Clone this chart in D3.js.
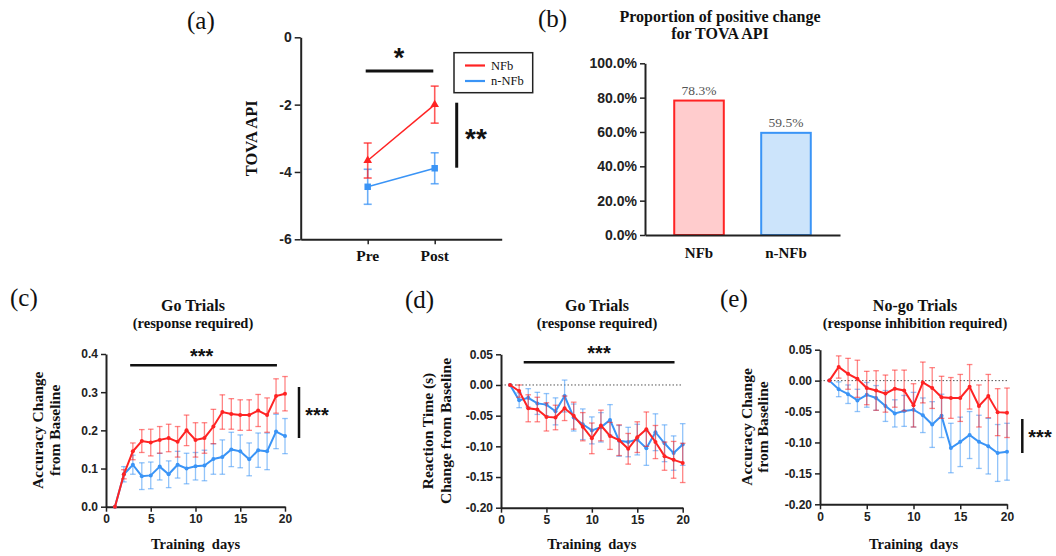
<!DOCTYPE html>
<html>
<head>
<meta charset="utf-8">
<script src="https://cdn.jsdelivr.net/npm/d3@7"></script>
<style>
  body { margin: 0; background: #fff; }
  svg { display: block; }
  .serif { font-family: "Liberation Serif", "Times New Roman", serif; }
  .tick text { font-family: "Liberation Sans", Arial, sans-serif; font-weight: bold; fill: #222; }
</style>
</head>
<body>
<svg id="fig"></svg>
<script>
// ---- data ----
const prePost = ["Pre", "Post"];
const apiNFb = [-3.66, -2.0];
const apiNFbErr = [0.52, 0.55];
const apiNNFb = [-4.44, -3.89];
const apiNNFbErr = [0.52, 0.46];

const groups = ["NFb", "n-NFb"];
const positiveShare = [78.3, 59.5];

const days = [1, 2, 3, 4, 5, 6, 7, 8, 9, 10, 11, 12, 13, 14, 15, 16, 17, 18, 19, 20];

// (c) Go trials accuracy
const goAccNFb    = [0, 0.085, 0.145, 0.172, 0.168, 0.175, 0.180, 0.170, 0.200, 0.175, 0.180, 0.210, 0.248, 0.243, 0.240, 0.240, 0.252, 0.240, 0.290, 0.296];
const goAccNFbErr = [0, 0.012, 0.022, 0.030, 0.035, 0.035, 0.036, 0.040, 0.040, 0.045, 0.040, 0.045, 0.045, 0.040, 0.040, 0.040, 0.042, 0.045, 0.045, 0.045];
const goAccNNFb    = [0, 0.085, 0.110, 0.080, 0.082, 0.105, 0.085, 0.110, 0.100, 0.106, 0.108, 0.125, 0.130, 0.150, 0.145, 0.124, 0.148, 0.145, 0.197, 0.185];
const goAccNNFbErr = [0, 0.020, 0.025, 0.035, 0.035, 0.035, 0.035, 0.035, 0.040, 0.036, 0.040, 0.040, 0.045, 0.045, 0.043, 0.043, 0.045, 0.048, 0.045, 0.046];

// (d) Go trials reaction time
const goRtNFb    = [0, -0.010, -0.038, -0.040, -0.052, -0.053, -0.038, -0.050, -0.068, -0.087, -0.066, -0.083, -0.090, -0.104, -0.085, -0.072, -0.093, -0.116, -0.122, -0.127];
const goRtNFbErr = [0, 0.010, 0.022, 0.020, 0.023, 0.020, 0.020, 0.022, 0.023, 0.025, 0.025, 0.022, 0.025, 0.025, 0.025, 0.028, 0.027, 0.023, 0.030, 0.032];
const goRtNNFb    = [0, -0.025, -0.021, -0.030, -0.032, -0.043, -0.018, -0.053, -0.064, -0.074, -0.069, -0.057, -0.091, -0.093, -0.089, -0.103, -0.077, -0.095, -0.111, -0.097];
const goRtNNFbErr = [0, 0.012, 0.015, 0.018, 0.018, 0.022, 0.026, 0.022, 0.025, 0.022, 0.024, 0.025, 0.025, 0.024, 0.025, 0.028, 0.030, 0.030, 0.028, 0.034];

// (e) No-go trials accuracy
const nogoAccNFb    = [0, 0.022, 0.011, 0.003, -0.012, -0.016, -0.021, -0.013, -0.016, -0.040, -0.003, -0.012, -0.027, -0.028, -0.028, -0.010, -0.041, -0.025, -0.051, -0.052];
const nogoAccNFbErr = [0, 0.018, 0.025, 0.030, 0.027, 0.032, 0.030, 0.030, 0.033, 0.035, 0.033, 0.033, 0.034, 0.033, 0.038, 0.036, 0.034, 0.035, 0.038, 0.040];
const nogoAccNNFb    = [0, -0.014, -0.022, -0.032, -0.023, -0.028, -0.041, -0.053, -0.049, -0.047, -0.056, -0.071, -0.057, -0.109, -0.099, -0.088, -0.099, -0.106, -0.117, -0.115];
const nogoAccNNFbErr = [0, 0.012, 0.015, 0.018, 0.020, 0.020, 0.025, 0.022, 0.025, 0.028, 0.028, 0.037, 0.035, 0.040, 0.040, 0.038, 0.043, 0.045, 0.046, 0.046];

const red = "#ff2323";
const blue = "#3a94f6";

const svg = d3.select("#fig").attr("width", 1056).attr("height", 556);

function styleAxis(g) {
    g.select(".domain").attr("stroke", "#222").attr("stroke-width", 2);
    g.selectAll(".tick line").attr("stroke", "#222").attr("stroke-width", 1.5);
}

function label(x, y, txt, size, opts = {}) {
    return svg.append("text")
        .attr("class", "serif")
        .attr("x", x).attr("y", y)
        .attr("font-size", size)
        .attr("font-weight", opts.weight || "bold")
        .attr("text-anchor", opts.anchor || "middle")
        .attr("fill", opts.fill || "#111")
        .text(txt);
}

function sigBar(x1, y1, x2, y2, w) {
    svg.append("line")
        .attr("x1", x1).attr("y1", y1).attr("x2", x2).attr("y2", y2)
        .attr("stroke", "#111").attr("stroke-width", w);
}

function stars(x, y, txt, size) {
    svg.append("text")
        .attr("x", x).attr("y", y)
        .attr("font-family", "Liberation Sans, Arial, sans-serif")
        .attr("font-weight", "bold")
        .attr("font-size", size)
        .attr("text-anchor", "middle")
        .attr("fill", "#111")
        .text(txt);
}

// ================= (a) TOVA API =================
label(187, 29, "(a)", 25, { weight: "normal", anchor: "start" });

const ax = d3.scaleLinear().domain([0, 3]).range([300.7, 501.7]);
const ay = d3.scaleLinear().domain([-6, 0]).range([239.3, 37.3]);

svg.append("g")
    .attr("transform", `translate(0,${ay(-6)})`)
    .call(d3.axisBottom(ax).tickValues([1, 2]).tickSize(5).tickSizeOuter(0).tickFormat(""))
    .call(styleAxis);
svg.append("g")
    .attr("transform", `translate(${ax(0)},0)`)
    .call(d3.axisLeft(ay).tickValues([0, -2, -4, -6]).tickSize(6).tickSizeOuter(0).tickFormat(d => String(d)))
    .call(styleAxis)
    .call(g => g.selectAll(".tick text").attr("font-size", 14));

prePost.forEach((p, i) => label(ax(i + 1), 261, p, 15.5));

svg.append("text")
    .attr("class", "serif")
    .attr("transform", `translate(257,${(ay(-6) + ay(0)) / 2}) rotate(-90)`)
    .attr("text-anchor", "middle")
    .attr("font-size", 16.5).attr("font-weight", "bold").attr("fill", "#111")
    .text("TOVA API");

function prePostSeries(vals, errs, color, shape) {
    const pts = vals.map((v, i) => ({ x: i + 1, y: v, e: errs[i] }));
    const g = svg.append("g");
    pts.forEach(d => {
        g.append("line")
            .attr("x1", ax(d.x)).attr("x2", ax(d.x))
            .attr("y1", ay(d.y - d.e)).attr("y2", ay(d.y + d.e))
            .attr("stroke", color).attr("stroke-width", 1.6).attr("opacity", 0.75);
        [d.y - d.e, d.y + d.e].forEach(v => g.append("line")
            .attr("x1", ax(d.x) - 4).attr("x2", ax(d.x) + 4)
            .attr("y1", ay(v)).attr("y2", ay(v))
            .attr("stroke", color).attr("stroke-width", 1.6).attr("opacity", 0.75));
    });
    g.append("path")
        .datum(pts)
        .attr("fill", "none").attr("stroke", color).attr("stroke-width", 1.5)
        .attr("d", d3.line().x(d => ax(d.x)).y(d => ay(d.y)));
    g.selectAll(".m").data(pts).join("path")
        .attr("transform", d => `translate(${ax(d.x)},${ay(d.y)})`)
        .attr("fill", color)
        .attr("d", d3.symbol().type(shape).size(shape === d3.symbolSquare ? 42 : 32));
}
prePostSeries(apiNNFb, apiNNFbErr, blue, d3.symbolSquare);
prePostSeries(apiNFb, apiNFbErr, red, d3.symbolTriangle);

sigBar(365.7, 71, 433.3, 71, 3);
stars(399, 67, "*", 27);
sigBar(456.7, 102.7, 456.7, 167.7, 3);
stars(476, 148, "**", 28);

// legend
svg.append("rect")
    .attr("x", 454).attr("y", 52.7).attr("width", 78.7).attr("height", 40)
    .attr("fill", "#fff").attr("stroke", "#222").attr("stroke-width", 1.5);
[{ n: groups[0], c: red }, { n: groups[1], c: blue }].forEach((d, i) => {
    const y = 65.5 + i * 15.5;
    svg.append("line").attr("x1", 465).attr("x2", 485).attr("y1", y).attr("y2", y)
        .attr("stroke", d.c).attr("stroke-width", 2.2);
    label(491, y + 4.3, d.n, 12.5, { weight: "normal", anchor: "start" });
});

// ================= (b) proportion bars =================
label(538, 27, "(b)", 25, { weight: "normal", anchor: "start" });
label(720, 22, "Proportion of positive change", 16);
label(720, 38.5, "for TOVA API", 16);

const bx = d3.scaleBand().domain(groups).range([645, 840]).paddingInner(0.43).paddingOuter(0.336);
const by = d3.scaleLinear().domain([0, 100]).range([235, 63.3]);

const barFill = ["#ffcccd", "#cce4fb"];
const barStroke = [red, blue];

svg.append("g").selectAll("rect").data(groups).join("rect")
    .attr("x", d => bx(d))
    .attr("y", (d, i) => by(positiveShare[i]))
    .attr("width", bx.bandwidth())
    .attr("height", (d, i) => by(0) - by(positiveShare[i]))
    .attr("fill", (d, i) => barFill[i])
    .attr("stroke", (d, i) => barStroke[i])
    .attr("stroke-width", 2);

groups.forEach((gname, i) => {
    label(bx(gname) + bx.bandwidth() / 2, by(positiveShare[i]) - 6, positiveShare[i].toFixed(1) + "%", 13.5,
        { weight: "normal", fill: "#555" });
    label(bx(gname) + bx.bandwidth() / 2, 258, gname, 15);
});

svg.append("g")
    .attr("transform", `translate(0,${by(0)})`)
    .call(d3.axisBottom(bx).tickSize(0).tickSizeOuter(0).tickFormat(""))
    .call(styleAxis);
svg.append("g")
    .attr("transform", "translate(645,0)")
    .call(d3.axisLeft(by).tickValues([0, 20, 40, 60, 80, 100]).tickSize(5).tickSizeOuter(0)
        .tickFormat(d => d.toFixed(1) + "%"))
    .call(styleAxis)
    .call(g => g.selectAll(".tick text").attr("font-size", 14));

// ================= (c)(d)(e) training curves =================
function trainingPanel(cfg) {
    const x = d3.scaleLinear().domain([0, 20]).range(cfg.xRange);
    const y = d3.scaleLinear().domain(cfg.yDomain).range(cfg.yRange);

    label(cfg.letterPos[0], cfg.letterPos[1], cfg.letter, 25, { weight: "normal", anchor: "start" });
    label(cfg.titleX, 311, cfg.title[0], 16);
    label(cfg.titleX, 328, cfg.title[1], 14.5);

    if (cfg.zeroLine) {
        svg.append("line")
            .attr("x1", x(0)).attr("x2", x(20)).attr("y1", y(0)).attr("y2", y(0))
            .attr("stroke", "#555").attr("stroke-width", 1).attr("stroke-dasharray", "1.5,2");
    }

    svg.append("g")
        .attr("transform", `translate(0,${cfg.yRange[0]})`)
        .call(d3.axisBottom(x).tickValues([0, 5, 10, 15, 20]).tickSize(5).tickSizeOuter(0))
        .call(styleAxis)
        .call(g => g.selectAll(".tick text").attr("font-size", 12));
    svg.append("g")
        .attr("transform", `translate(${x(0)},0)`)
        .call(d3.axisLeft(y).tickValues(cfg.yTicks).tickSize(5).tickSizeOuter(0).tickFormat(cfg.fmt))
        .call(styleAxis)
        .call(g => g.selectAll(".tick text").attr("font-size", 12));

    const midX = (cfg.xRange[0] + cfg.xRange[1]) / 2;
    label(midX, 549, "Training  days", 14.5).attr("xml:space", "preserve");

    const midY = (cfg.yRange[0] + cfg.yRange[1]) / 2;
    cfg.yLabel.forEach((t, i) => {
        svg.append("text")
            .attr("class", "serif")
            .attr("transform", `translate(${cfg.yLabelX[i]},${midY}) rotate(-90)`)
            .attr("text-anchor", "middle")
            .attr("font-size", 15.5).attr("font-weight", "bold").attr("fill", "#111")
            .text(t);
    });

    cfg.series.forEach(s => {
        const pts = days.map((d, i) => ({ x: d, y: s.vals[i], e: s.errs[i] }));
        const g = svg.append("g");
        pts.filter(d => d.e > 0).forEach(d => {
            g.append("line")
                .attr("x1", x(d.x)).attr("x2", x(d.x))
                .attr("y1", y(d.y - d.e)).attr("y2", y(d.y + d.e))
                .attr("stroke", s.color).attr("stroke-width", 1.3).attr("opacity", 0.55);
            [d.y - d.e, d.y + d.e].forEach(v => g.append("line")
                .attr("x1", x(d.x) - 2.8).attr("x2", x(d.x) + 2.8)
                .attr("y1", y(v)).attr("y2", y(v))
                .attr("stroke", s.color).attr("stroke-width", 1.3).attr("opacity", 0.55));
        });
        s.g = g;
        s.pts = pts;
    });
    cfg.series.forEach(s => {
        s.g.append("path")
            .datum(s.pts)
            .attr("fill", "none").attr("stroke", s.color).attr("stroke-width", 2)
            .attr("d", d3.line().x(d => x(d.x)).y(d => y(d.y)));
        s.g.selectAll("circle").data(s.pts).join("circle")
            .attr("cx", d => x(d.x)).attr("cy", d => y(d.y)).attr("r", 2)
            .attr("fill", s.color);
    });

    return { x, y };
}

// (c)
const pc = trainingPanel({
    letter: "(c)", letterPos: [10, 306],
    title: ["Go Trials", "(response required)"], titleX: 193,
    xRange: [106, 285], yDomain: [0, 0.4], yRange: [506.7, 354],
    yTicks: [0, 0.1, 0.2, 0.3, 0.4], fmt: d => d.toFixed(1),
    yLabel: ["Accuracy Change", "from Baseline"], yLabelX: [43, 60],
    series: [
        { vals: goAccNNFb, errs: goAccNNFbErr, color: blue },
        { vals: goAccNFb, errs: goAccNFbErr, color: red }
    ]
});
sigBar(pc.x(2.7), 365.3, pc.x(19.1), 365.3, 2.5);
stars(201.7, 363, "***", 20);
sigBar(299, 387, 299, 438, 2.5);
stars(317, 422, "***", 20);

// (d)
const pd = trainingPanel({
    letter: "(d)", letterPos: [405, 308],
    title: ["Go Trials", "(response required)"], titleX: 597,
    xRange: [501, 682.7], yDomain: [-0.2, 0.05], yRange: [507.7, 354.3],
    yTicks: [-0.2, -0.15, -0.1, -0.05, 0, 0.05], fmt: d => d.toFixed(2),
    yLabel: ["Reaction Time (s)", "Change from Baseline"], yLabelX: [433, 450.5],
    zeroLine: true,
    series: [
        { vals: goRtNNFb, errs: goRtNNFbErr, color: blue },
        { vals: goRtNFb, errs: goRtNFbErr, color: red }
    ]
});
sigBar(pd.x(2.5), 362.3, pd.x(19.1), 362.3, 2.5);
stars(599, 360, "***", 20);

// (e)
trainingPanel({
    letter: "(e)", letterPos: [720, 307],
    title: ["No-go Trials", "(response inhibition  required)"], titleX: 915,
    xRange: [820, 1007], yDomain: [-0.2, 0.05], yRange: [504.3, 349.7],
    yTicks: [-0.2, -0.15, -0.1, -0.05, 0, 0.05], fmt: d => d.toFixed(2),
    yLabel: ["Accuracy Change", "from Baseline"], yLabelX: [751.5, 768],
    zeroLine: true,
    series: [
        { vals: nogoAccNNFb, errs: nogoAccNNFbErr, color: blue },
        { vals: nogoAccNFb, errs: nogoAccNFbErr, color: red }
    ]
});
sigBar(1022.3, 419, 1022.3, 453, 2.5);
stars(1040, 444, "***", 20);
</script>
</body>
</html>
